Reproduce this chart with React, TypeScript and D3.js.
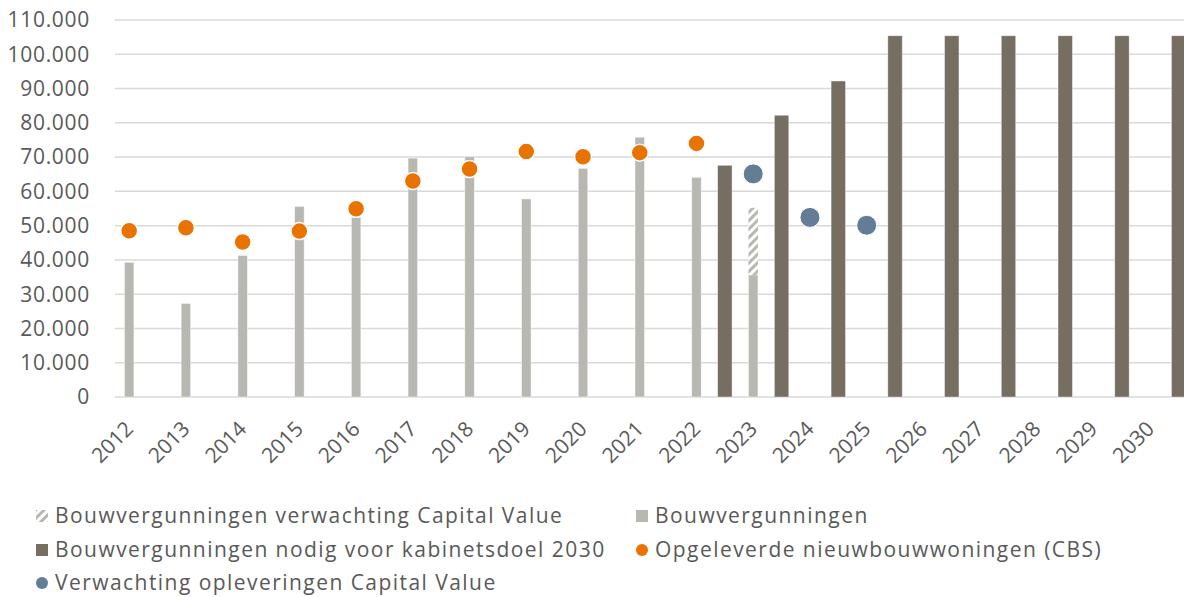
import { useEffect, useRef } from "react";
import * as d3 from "d3";

const years = [
  "2012", "2013", "2014", "2015", "2016", "2017", "2018", "2019", "2020", "2021",
  "2022", "2023", "2024", "2025", "2026", "2027", "2028", "2029", "2030",
];

// Bouwvergunningen (CBS)
const permits: (number | null)[] = [
  39300, 27300, 41300, 55600, 52500, 69700, 70100, 57800, 66700, 75800,
  64100, 35600, null, null, null, null, null, null, null,
];

// Bouwvergunningen verwachting Capital Value (stacked on top of permits)
const permitsExpected: (number | null)[] = [
  null, null, null, null, null, null, null, null, null, null,
  null, 19600, null, null, null, null, null, null, null,
];

// Bouwvergunningen nodig voor kabinetsdoel 2030
const permitsNeeded: (number | null)[] = [
  null, null, null, null, null, null, null, null, null, null,
  67600, 82200, 92200, 105400, 105400, 105400, 105400, 105400, 105400,
];

// Opgeleverde nieuwbouwwoningen (CBS)
const completions: (number | null)[] = [
  48500, 49400, 45200, 48400, 54900, 63000, 66500, 71600, 70100, 71300,
  74000, null, null, null, null, null, null, null, null,
];

// Verwachting opleveringen Capital Value
const completionsExpected: (number | null)[] = [
  null, null, null, null, null, null, null, null, null, null,
  null, 65100, 52400, 50100, null, null, null, null, null,
];

const yTicks = [0, 10000, 20000, 30000, 40000, 50000, 60000, 70000, 80000, 90000, 100000, 110000];

const W = 1184;
const H = 597;
const FONT = "'Open Sans', sans-serif";
const TEXT = "#595959";
const GRAY = "#b8b7b2";
const DARK = "#776e62";
const ORANGE = "#e87300";
const BLUE = "#647d96";
const GRID = "#d9d9d9";

const legendItems = [
  { label: "Bouwvergunningen verwachting Capital Value", kind: "hatch", x: 36, y: 516 },
  { label: "Bouwvergunningen", kind: "gray", x: 636, y: 516 },
  { label: "Bouwvergunningen nodig voor kabinetsdoel 2030", kind: "dark", x: 36, y: 550 },
  { label: "Opgeleverde nieuwbouwwoningen (CBS)", kind: "orange", x: 636, y: 550 },
  { label: "Verwachting opleveringen Capital Value", kind: "blue", x: 36, y: 583 },
];

export default function App() {
  const svgRef = useRef<SVGSVGElement | null>(null);

  useEffect(() => {
    if (!svgRef.current) return;
    const svg = d3.select(svgRef.current);
    svg.selectAll("*").remove();

    const left = 115;
    const band = 56.73;
    const x = d3.scaleBand().domain(years).range([left, left + band * years.length]);
    const sub = d3.scaleBand().domain(["permits", "needed"]).range([0, x.bandwidth()]);
    const y = d3.scaleLinear().domain([0, 110000]).range([397, 20]);

    const grayX = (yr: string) => (x(yr) || 0) + (sub("permits") || 0) + sub.bandwidth() / 2;
    const darkX = (yr: string) => (x(yr) || 0) + (sub("needed") || 0) + sub.bandwidth() / 2;

    const defs = svg.append("defs");
    const pat = defs
      .append("pattern")
      .attr("id", "hatch")
      .attr("patternUnits", "userSpaceOnUse")
      .attr("width", 6)
      .attr("height", 6)
      .attr("patternTransform", "rotate(45)");
    pat.append("rect").attr("width", 6).attr("height", 6).attr("fill", "#fff");
    pat.append("rect").attr("width", 3).attr("height", 6).attr("fill", GRAY);

    // Gridlines
    svg
      .append("g")
      .selectAll("line")
      .data(yTicks)
      .enter()
      .append("line")
      .attr("x1", left)
      .attr("x2", W)
      .attr("y1", (d) => y(d))
      .attr("y2", (d) => y(d))
      .attr("stroke", GRID)
      .attr("stroke-width", 1.5);

    // Y axis labels
    const fmt = (v: number) => (v === 0 ? "0" : d3.format(",")(v).replace(/,/g, "."));
    svg
      .append("g")
      .selectAll("text")
      .data(yTicks)
      .enter()
      .append("text")
      .attr("x", 90)
      .attr("y", (d) => y(d))
      .attr("dy", "0.35em")
      .attr("text-anchor", "end")
      .attr("font-family", FONT)
      .attr("font-size", 21)
      .attr("letter-spacing", 0.7)
      .attr("fill", TEXT)
      .text(fmt);

    const gw = 9.5;
    const dw = 14.4;

    // Bouwvergunningen
    svg
      .append("g")
      .selectAll("rect")
      .data(years.map((yr, i) => ({ yr, v: permits[i] })).filter((d) => d.v != null))
      .enter()
      .append("rect")
      .attr("x", (d) => grayX(d.yr) - gw / 2)
      .attr("width", gw)
      .attr("y", (d) => y(d.v as number))
      .attr("height", (d) => y(0) - y(d.v as number))
      .attr("fill", GRAY)
      .attr("stroke", "#fff")
      .attr("stroke-opacity", 0.6)
      .attr("stroke-width", 0.75);

    // Verwachting (stacked)
    svg
      .append("g")
      .selectAll("rect")
      .data(
        years
          .map((yr, i) => ({ yr, base: permits[i] || 0, v: permitsExpected[i] }))
          .filter((d) => d.v != null)
      )
      .enter()
      .append("rect")
      .attr("x", (d) => grayX(d.yr) - gw / 2)
      .attr("width", gw)
      .attr("y", (d) => y(d.base + (d.v as number)))
      .attr("height", (d) => y(d.base) - y(d.base + (d.v as number)))
      .attr("fill", "url(#hatch)");

    // Nodig voor kabinetsdoel
    svg
      .append("g")
      .selectAll("rect")
      .data(years.map((yr, i) => ({ yr, v: permitsNeeded[i] })).filter((d) => d.v != null))
      .enter()
      .append("rect")
      .attr("x", (d) => darkX(d.yr) - dw / 2)
      .attr("width", dw)
      .attr("y", (d) => y(d.v as number))
      .attr("height", (d) => y(0) - y(d.v as number))
      .attr("fill", DARK)
      .attr("stroke", "#fff")
      .attr("stroke-opacity", 0.5)
      .attr("stroke-width", 0.75);

    // Opgeleverd (CBS)
    svg
      .append("g")
      .selectAll("circle")
      .data(years.map((yr, i) => ({ yr, v: completions[i] })).filter((d) => d.v != null))
      .enter()
      .append("circle")
      .attr("cx", (d) => grayX(d.yr))
      .attr("cy", (d) => y(d.v as number))
      .attr("r", 8.5)
      .attr("fill", ORANGE)
      .attr("stroke", "#fff")
      .attr("stroke-width", 1.5);

    // Verwachting opleveringen
    svg
      .append("g")
      .selectAll("circle")
      .data(years.map((yr, i) => ({ yr, v: completionsExpected[i] })).filter((d) => d.v != null))
      .enter()
      .append("circle")
      .attr("cx", (d) => grayX(d.yr))
      .attr("cy", (d) => y(d.v as number))
      .attr("r", 10)
      .attr("fill", BLUE)
      .attr("stroke", "#fff")
      .attr("stroke-width", 1);

    // X labels
    svg
      .append("g")
      .selectAll("text")
      .data(years)
      .enter()
      .append("text")
      .attr("transform", (d) => `translate(${grayX(d)},425) rotate(-45)`)
      .attr("dy", "0.35em")
      .attr("text-anchor", "end")
      .attr("font-family", FONT)
      .attr("font-size", 21)
      .attr("fill", TEXT)
      .text((d) => d);

    // Legend
    const lg = svg
      .append("g")
      .selectAll("g")
      .data(legendItems)
      .enter()
      .append("g")
      .attr("transform", (d) => `translate(${d.x},${d.y})`);
    lg.each(function (d) {
      const g = d3.select(this);
      if (d.kind === "orange" || d.kind === "blue") {
        g.append("circle")
          .attr("cx", 6)
          .attr("cy", 0)
          .attr("r", 6)
          .attr("fill", d.kind === "orange" ? ORANGE : BLUE);
      } else {
        g.append("rect")
          .attr("x", 0)
          .attr("y", -6)
          .attr("width", 12)
          .attr("height", 12)
          .attr("fill", d.kind === "hatch" ? "url(#hatch)" : d.kind === "gray" ? GRAY : DARK);
      }
      g.append("text")
        .attr("x", 19)
        .attr("y", 0)
        .attr("dy", "0.35em")
        .attr("font-family", FONT)
        .attr("font-size", 21)
        .attr("letter-spacing", 1.45)
        .attr("fill", TEXT)
        .text(d.label);
    });
  }, []);

  return (
    <svg
      ref={svgRef}
      width={W}
      height={H}
      style={{ position: "absolute", left: 0, top: 0, background: "#fff" }}
    />
  );
}
